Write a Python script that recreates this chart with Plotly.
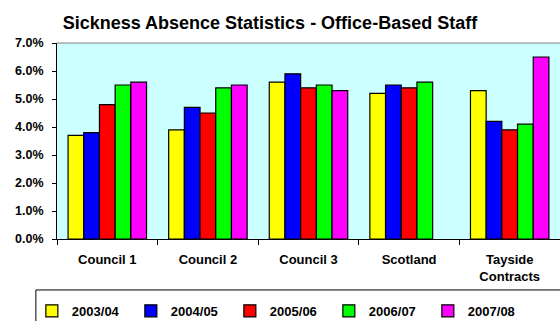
import plotly.graph_objects as go

categories = ["Council 1", "Council 2", "Council 3", "Scotland", "Tayside<br>Contracts"]
years = ["2003/04", "2004/05", "2005/06", "2006/07", "2007/08"]
colors = ["#FFFF00", "#0000FF", "#FF0000", "#00FF00", "#FF00FF"]

rate_2003_04 = [3.7, 3.9, 5.6, 5.2, 5.3]
rate_2004_05 = [3.8, 4.7, 5.9, 5.5, 4.2]
rate_2005_06 = [4.8, 4.5, 5.4, 5.4, 3.9]
rate_2006_07 = [5.5, 5.4, 5.5, 5.6, 4.1]
rate_2007_08 = [5.6, 5.5, 5.3, None, 6.5]

series = [rate_2003_04, rate_2004_05, rate_2005_06, rate_2006_07, rate_2007_08]

FONT = "Liberation Sans, Arial, sans-serif"

fig = go.Figure()
for name, vals, col in zip(years, series, colors):
    fig.add_trace(go.Bar(
        x=categories, y=vals, name=name,
        marker=dict(color=col, line=dict(color="#000000", width=1.2)),
    ))

fig.update_layout(
    width=560, height=321,
    margin=dict(l=57, r=0, t=43, b=82, autoexpand=False),
    paper_bgcolor="white",
    plot_bgcolor="#CCFFFF",
    barmode="group",
    bargap=0.22,
    bargroupgap=0,
    font=dict(family=FONT, color="#000000"),
    title=dict(
        text="<b>Sickness Absence Statistics - Office-Based Staff</b>",
        x=0.482, xanchor="center", y=0.93, yanchor="middle",
        font=dict(size=18, family=FONT),
    ),
    xaxis=dict(
        showline=True, linecolor="#000000", linewidth=1,
        ticks="outside", tickson="boundaries", ticklen=5, tickcolor="#000000",
        tickfont=dict(size=13, family=FONT, weight="bold"),
        ticklabelstandoff=8,
        showgrid=False,
    ),
    yaxis=dict(
        range=[0, 7], dtick=1, tickformat=".1f", ticksuffix="%",
        showline=True, linecolor="#000000", linewidth=1,
        ticks="outside", ticklen=4, tickcolor="#000000",
        tickfont=dict(size=12.5, family=FONT, weight="bold"),
        ticklabelstandoff=6,
        showgrid=False, zeroline=False,
    ),
    legend=dict(
        orientation="h",
        x=-0.05, xanchor="left",
        y=-0.29, yanchor="top",
        borderwidth=0,
        entrywidth=54, entrywidthmode="pixels",
        font=dict(size=13, family=FONT, weight="bold"),
        itemwidth=30,
        bgcolor="rgba(0,0,0,0)",
    ),
    showlegend=True,
)

# grey frame line along the top of the plot area
fig.add_shape(type="line", xref="paper", yref="paper", x0=0, x1=1, y0=1, y1=1,
              line=dict(color="#808080", width=1))
# legend frame, running off the right and bottom edges
fig.add_shape(type="rect", xref="paper", yref="paper",
              x0=-0.042, x1=1.1, y0=-0.26, y1=-0.6,
              line=dict(color="#000000", width=1), fillcolor="rgba(0,0,0,0)")

fig.write_html("out.html")
